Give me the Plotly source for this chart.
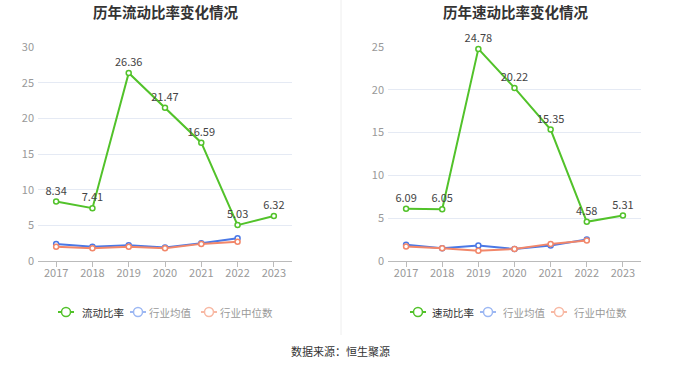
import plotly.graph_objects as go

W, H = 680, 367

years = ["2017", "2018", "2019", "2020", "2021", "2022", "2023"]

current_ratio = [8.34, 7.41, 26.36, 21.47, 16.59, 5.03, 6.32]
current_ind_avg = [2.4, 2.0, 2.2, 1.9, 2.5, 3.2]
current_ind_med = [2.0, 1.8, 2.0, 1.8, 2.4, 2.7]

quick_ratio = [6.09, 6.05, 24.78, 20.22, 15.35, 4.58, 5.31]
quick_ind_avg = [1.9, 1.5, 1.8, 1.4, 1.8, 2.5]
quick_ind_med = [1.7, 1.5, 1.2, 1.4, 2.0, 2.4]

titles = ["历年流动比率变化情况", "历年速动比率变化情况"]
main_names = ["流动比率", "速动比率"]
ind_names = ["行业均值", "行业中位数"]
source_text = "数据来源：恒生聚源"

GREEN = "#52c22a"
BLUE = "#4a78e6"
ORANGE = "#f2876a"
BLUE_L = "#9db8f3"
ORANGE_L = "#f8b9a4"

def px(x):
    return x / W

def py(y):
    return 1 - y / H

fig = go.Figure()

panels = [
    dict(main=current_ratio, avg=current_ind_avg, med=current_ind_med, xa="x", ya="y", ymax=30),
    dict(main=quick_ratio, avg=quick_ind_avg, med=quick_ind_med, xa="x2", ya="y2", ymax=25),
]

for i, p in enumerate(panels):
    fig.add_trace(go.Scatter(
        x=years[:len(p["avg"])], y=p["avg"], mode="lines+markers",
        line=dict(color=BLUE, width=2),
        marker=dict(symbol="circle", size=5, color="white", line=dict(color=BLUE, width=1.5)),
        xaxis=p["xa"], yaxis=p["ya"], showlegend=False, hoverinfo="skip"))
    fig.add_trace(go.Scatter(
        x=years[:len(p["med"])], y=p["med"], mode="lines+markers",
        line=dict(color=ORANGE, width=2),
        marker=dict(symbol="circle", size=5, color="white", line=dict(color=ORANGE, width=1.5)),
        xaxis=p["xa"], yaxis=p["ya"], showlegend=False, hoverinfo="skip"))
    fig.add_trace(go.Scatter(
        x=years, y=p["main"], mode="lines+markers+text",
        text=[f"{v:.2f}" for v in p["main"]], textposition="top center",
        textfont=dict(size=11, color="#444", family="Noto Sans CJK SC"),
        cliponaxis=False,
        line=dict(color=GREEN, width=2),
        marker=dict(symbol="circle", size=5, color="white", line=dict(color=GREEN, width=1.5)),
        xaxis=p["xa"], yaxis=p["ya"], showlegend=False, hoverinfo="skip"))

ydom = [py(261), py(47)]
common_x = dict(type="category", range=[-0.5, 6.5], showgrid=False, showline=True,
                linecolor="#bbbbbb", linewidth=1, ticks="outside", ticklen=5, tickcolor="#bbbbbb",
                tickfont=dict(size=11, color="#999999"), fixedrange=True, zeroline=False,
                automargin=False, ticklabelstandoff=-3)
common_y = dict(showgrid=True, gridcolor="#e5eaf4", gridwidth=1, dtick=5, zeroline=False,
                showline=False, tickfont=dict(size=11, color="#999999"), ticks="", fixedrange=True,
                automargin=False, ticklabelstandoff=3)

fig.update_layout(
    xaxis=dict(domain=[px(38), px(292)], anchor="y", **common_x),
    yaxis=dict(domain=ydom, anchor="x", range=[0, 30], **common_y),
    xaxis2=dict(domain=[px(388), px(641)], anchor="y2", **common_x),
    yaxis2=dict(domain=ydom, anchor="x2", range=[0, 25], **common_y),
)

shapes = []
annotations = []

# separator
shapes.append(dict(type="line", xref="paper", yref="paper", x0=px(341), x1=px(341),
                   y0=py(0), y1=py(335), line=dict(color="#eeeeee", width=1)))

# titles
for cx, t in zip([165, 515], titles):
    annotations.append(dict(text=f"<b>{t}</b>", xref="paper", yref="paper", x=px(cx), y=py(11),
                            xanchor="center", yanchor="middle", showarrow=False,
                            font=dict(size=14.5, color="#333333", family="Noto Sans CJK SC")))

# legends
legend_items = [
    [(66, 81, main_names[0], GREEN, GREEN, "#333333"),
     (138, 148, ind_names[0], BLUE_L, BLUE_L, "#999999"),
     (209, 219, ind_names[1], ORANGE_L, ORANGE_L, "#999999")],
    [(418, 431, main_names[1], GREEN, GREEN, "#333333"),
     (488, 502, ind_names[0], BLUE_L, BLUE_L, "#999999"),
     (559, 573, ind_names[1], ORANGE_L, ORANGE_L, "#999999")],
]
ly = 312
for group in legend_items:
    for cx, tx, name, lc, mc, tc in group:
        shapes.append(dict(type="line", xref="paper", yref="paper", x0=px(cx - 8), x1=px(cx + 8),
                           y0=py(ly), y1=py(ly), line=dict(color=lc, width=2)))
        r = 4.5
        shapes.append(dict(type="circle", xref="paper", yref="paper", x0=px(cx - r), x1=px(cx + r),
                           y0=py(ly + r), y1=py(ly - r), fillcolor="white", line=dict(color=mc, width=1.5)))
        annotations.append(dict(text=name, xref="paper", yref="paper", x=px(tx), y=py(ly),
                                xanchor="left", yanchor="middle", showarrow=False, borderpad=0,
                                font=dict(size=10.5, color=tc, family="Noto Sans CJK SC")))

annotations.append(dict(text=source_text, xref="paper", yref="paper", x=px(340), y=py(351),
                        xanchor="center", yanchor="middle", showarrow=False,
                        font=dict(size=11, color="#333333", family="Noto Sans CJK SC")))

fig.update_layout(
    width=W, height=H, margin=dict(l=0, r=0, t=0, b=0, pad=0, autoexpand=False),
    paper_bgcolor="white", plot_bgcolor="white",
    font=dict(family="Noto Sans CJK SC"),
    shapes=shapes, annotations=annotations, showlegend=False,
)

fig.write_html("out.html", config={"displayModeBar": False})

with open("out.html", "r", encoding="utf-8") as f:
    html = f.read()
html = html.replace("<body>", '<body style="margin:0;padding:0;overflow:hidden">', 1)
html = html.replace("<head>", '<head><style>html,body{margin:0;padding:0;overflow:hidden}</style>', 1)
with open("out.html", "w", encoding="utf-8") as f:
    f.write(html)
